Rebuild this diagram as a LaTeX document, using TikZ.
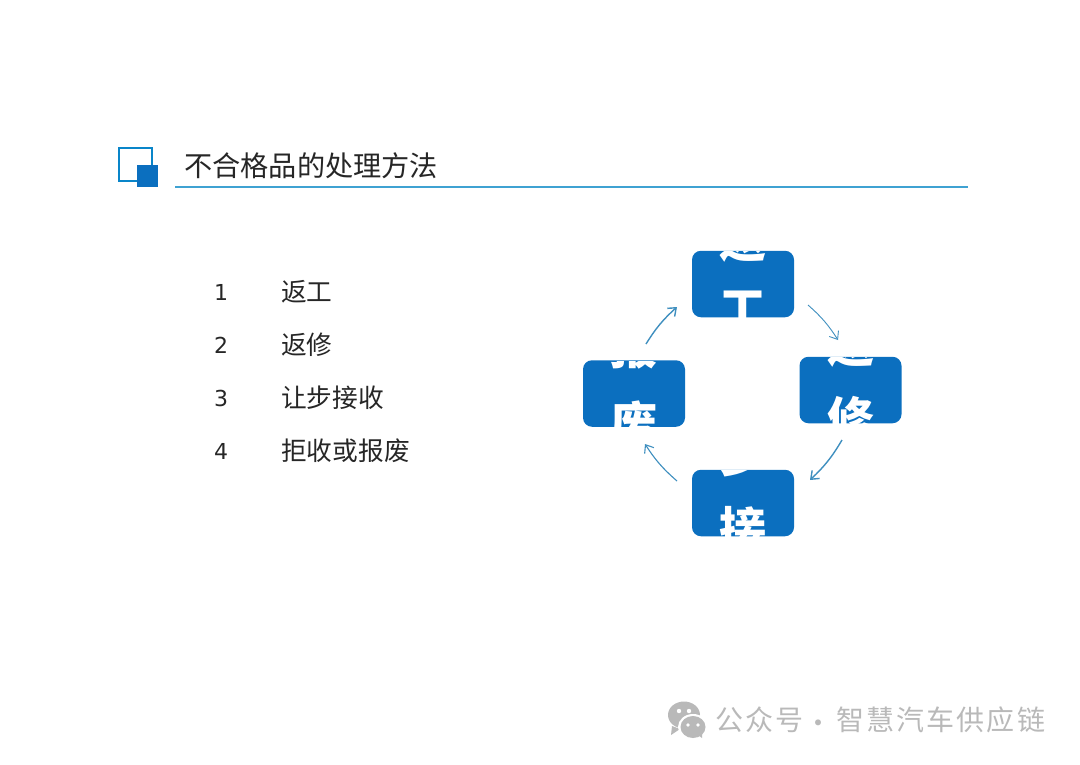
\documentclass[tikz,border=0pt]{standalone}
\usepackage{fontspec}
\setmainfont{Noto Sans CJK SC}
\newfontfamily\numfont{DejaVu Sans}
\usetikzlibrary{arrows.meta}
\definecolor{boxblue}{HTML}{0B6FBF}
\definecolor{rulecol}{HTML}{3FA2D2}
\definecolor{arrowcol}{HTML}{3F8FBF}
\definecolor{inktext}{HTML}{262626}
\definecolor{markgray}{HTML}{B9B9B9}
\tikzset{
  x=1pt,y=-1pt,
  bluebox/.style={fill=boxblue,rounded corners=9pt,minimum width=102pt,minimum height=66.5pt,inner sep=0pt,draw=none},
  boxglyph/.style={text=white,font=\fontsize{47}{47}\selectfont\bfseries,inner sep=0pt,anchor=center},
  listnum/.style={text=inktext,font=\numfont\fontsize{22}{24}\selectfont,inner sep=0pt,anchor=center},
  listitem/.style={text=inktext,font=\fontsize{25.7}{28}\selectfont,inner sep=0pt,anchor=west},
  cycarrow/.style={draw=arrowcol,line width=1.4pt,-{Straight Barb[length=7pt,width=11pt]}},
  markglyph/.style={text=markgray,font=\fontsize{28}{30}\selectfont,inner sep=0pt,anchor=center},
  bubble/.style={fill=markgray,draw=none},
}
\begin{document}
\begin{tikzpicture}
\useasboundingbox (0,0) rectangle (1080,764);
% title block
\node[draw=boxblue!85!cyan,line width=2pt,minimum width=33pt,minimum height=33pt,inner sep=0pt] (iconouter) at (135,164.5) {};
\node[fill=boxblue,minimum width=21pt,minimum height=22pt,inner sep=0pt] (iconinner) at (147.5,176) {};
\node[text=inktext,font=\fontsize{28.2}{30}\selectfont,inner sep=0pt,anchor=west] (title) at (184,166) {不合格品的处理方法};
\coordinate (ruleA) at (175,187);
\coordinate (ruleB) at (968,187);
\draw[rulecol,line width=1.5pt] (ruleA) -- (ruleB);
% list
\node[listnum] (n1) at (221,292) {1};
\node[listnum] (n2) at (221,345) {2};
\node[listnum] (n3) at (221,398) {3};
\node[listnum] (n4) at (221,451) {4};
\node[listitem] (t1) at (281,292) {返工};
\node[listitem] (t2) at (281,345) {返修};
\node[listitem] (t3) at (281,398) {让步接收};
\node[listitem] (t4) at (281,451) {拒收或报废};
% boxes with clipped text (offsets are from each box centre)
\node[bluebox,path picture={
  \node[boxglyph] (gtop1) at (0,-44) {返};
  \node[boxglyph] (gtop2) at (0,25) {工};
}] (top) at (743,284) {};
\node[bluebox,path picture={
  \node[boxglyph] (gright1) at (0,-45) {返};
  \node[boxglyph] (gright2) at (0,29) {修};
}] (right) at (850.5,390) {};
\node[bluebox,path picture={
  \node[boxglyph] (gbot1) at (0,-48) {步};
  \node[boxglyph] (gbot2) at (0,26) {接};
}] (bottom) at (743,503) {};
\node[bluebox,path picture={
  \node[boxglyph] (gleft1) at (0,-47) {报};
  \node[boxglyph] (gleft2) at (0,30) {废};
}] (left) at (634,393.5) {};
% cycle arrows
\coordinate (a1s) at (808,305); \coordinate (a1e) at (838,340);
\coordinate (a2s) at (842,440); \coordinate (a2e) at (810,480);
\coordinate (a3s) at (677,481); \coordinate (a3e) at (645,444);
\coordinate (a4s) at (646,344); \coordinate (a4e) at (677,307);
\draw[cycarrow,line width=.9pt] (a1s) to[bend left=8] (a1e);
\draw[cycarrow] (a2s) to[bend left=8] (a2e);
\draw[cycarrow,line width=1.1pt] (a3s) to[bend left=8] (a3e);
\draw[cycarrow] (a4s) to[bend left=8] (a4e);
% watermark
\fill[bubble] (684,715) ellipse (16pt and 13.5pt);
\fill[bubble] (672,726) -- (671,735) -- (680,729) -- cycle;
\fill[white] (693,727) ellipse (15pt and 13pt);
\fill[bubble] (693,727) ellipse (12.5pt and 11pt);
\fill[bubble] (698,735) -- (702,738) -- (702,732) -- cycle;
\fill[white] (679,711) circle (2.2pt) (689,711) circle (2.2pt) (688,725) circle (1.8pt) (698,725) circle (1.8pt);
\node[markglyph] (w1) at (729,720) {公};
\node[markglyph] (w2) at (759,720) {众};
\node[markglyph] (w3) at (789,720) {号};
\node[markglyph] (w4) at (818,727) {·};
\node[markglyph] (w5) at (850,720) {智};
\node[markglyph] (w6) at (880,720) {慧};
\node[markglyph] (w7) at (910,720) {汽};
\node[markglyph] (w8) at (940,720) {车};
\node[markglyph] (w9) at (970,720) {供};
\node[markglyph] (w10) at (1000,720) {应};
\node[markglyph] (w11) at (1031,720) {链};
\end{tikzpicture}
\end{document}
